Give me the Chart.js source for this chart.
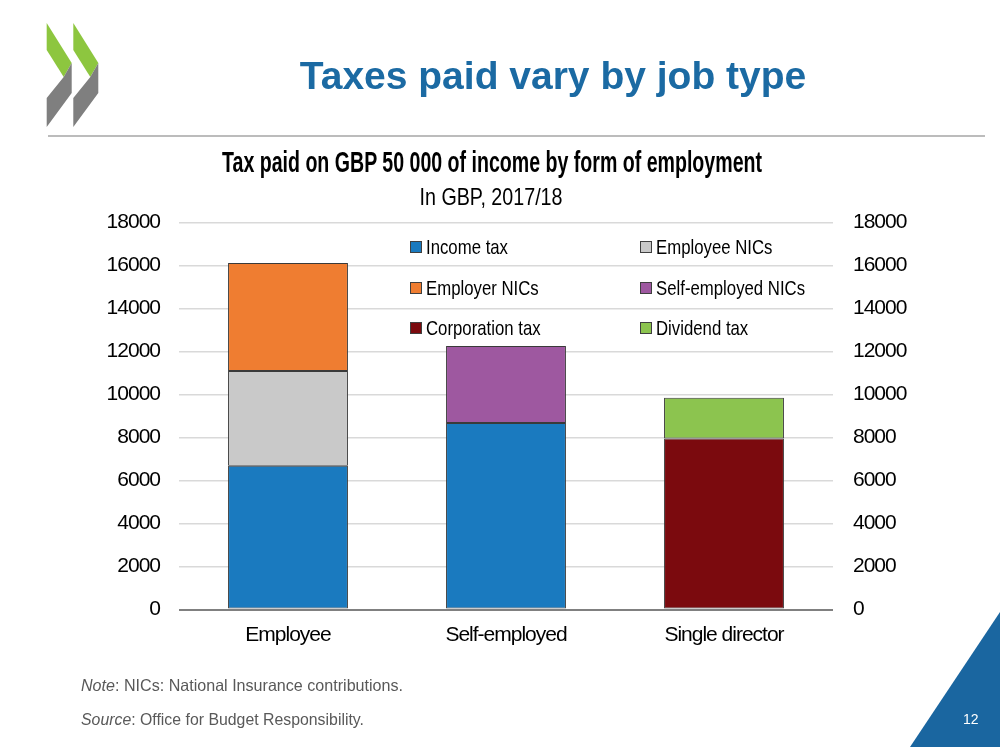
<!DOCTYPE html>
<html>
<head>
<meta charset="utf-8">
<script src="https://cdn.jsdelivr.net/npm/chart.js@4.4.0/dist/chart.umd.min.js"></script>
<style>
html,body{margin:0;padding:0;background:#fff;}
#page{position:relative;width:1000px;height:747px;overflow:hidden;background:#fff;}
#c{position:absolute;left:0;top:0;}
.t{position:absolute;white-space:nowrap;line-height:1;}
#title{left:253px;width:600px;top:54px;text-align:center;font:bold 39px "Liberation Sans",Arial,sans-serif;color:#1b6aa3;}
#ctitle{left:492px;top:146px;font:bold 29px "Liberation Sans",Arial,sans-serif;color:#000;}
#csub{left:491px;top:183px;font:24px "Liberation Sans",Arial,sans-serif;color:#000;}
.foot{left:81px;font:16.5px "Liberation Sans",Arial,sans-serif;color:#595959;transform-origin:0 50%;}
#pnum{left:963px;top:711px;font:14px "Liberation Sans",Arial,sans-serif;color:#fff;}
.leg{position:absolute;white-space:nowrap;font:21px "Liberation Sans",Arial,sans-serif;color:#000;line-height:1;}
.leg span.box{position:absolute;left:0;width:10px;height:10px;border:1px solid #404040;}
.leg span.lab{position:absolute;left:16px;top:0;transform-origin:0 50%;}
</style>
</head>
<body>
<div id="page">
<svg width="1000" height="747" style="position:absolute;left:0;top:0">
  <g id="logo"></g>
  <line x1="48" y1="136" x2="985" y2="136" stroke="#a6a6a6" stroke-width="1.5"/>
  <polygon points="1000,612 1000,747 910,747" fill="#1a66a0"/>
</svg>
<canvas id="c" width="1000" height="747"></canvas>
<div class="t" id="title">Taxes paid vary by job type</div>
<div class="t" id="ctitle">Tax paid on GBP 50 000 of income by form of employment</div>
<div class="t" id="csub">In GBP, 2017/18</div>
<div class="t foot" id="note" style="top:676px"><i>Note</i>: NICs: National Insurance contributions.</div>
<div class="t foot" id="source" style="top:710px"><i>Source</i>: Office for Budget Responsibility.</div>
<div class="t" id="pnum">12</div>
<div id="legend"></div>
</div>
<script>
// ---- data ----
const categories = ['Employee', 'Self-employed', 'Single director'];
const seriesNames = ['Income tax', 'Employee NICs', 'Employer NICs', 'Self-employed NICs', 'Corporation tax', 'Dividend tax'];
const incomeTax = [6690, 8670, null];
const employeeNICs = [4400, null, null];
const employerNICs = [5030, null, null];
const selfEmployedNICs = [null, 3590, null];
const corporationTax = [null, null, 7950];
const dividendTax = [null, null, 1900];
const yTickValues = [0, 2000, 4000, 6000, 8000, 10000, 12000, 14000, 16000, 18000];
const yTickLabels = ['0', '2000', '4000', '6000', '8000', '10000', '12000', '14000', '16000', '18000'];

const seriesValues = [incomeTax, employeeNICs, employerNICs, selfEmployedNICs, corporationTax, dividendTax];
const seriesColors = ['#1a7abf', '#c9c9c9', '#ef7d31', '#9e58a0', '#7b0a0e', '#8cc44f'];

// ---- logo ----
(function(){
  const g = document.getElementById('logo');
  const ns = 'http://www.w3.org/2000/svg';
  [46.7, 73.3].forEach(L => {
    const green = document.createElementNS(ns, 'polygon');
    green.setAttribute('points', `${L},23 ${L+25},63 ${L+17},77 ${L},50`);
    green.setAttribute('fill', '#8dc63f');
    const gray = document.createElementNS(ns, 'polygon');
    gray.setAttribute('points', `${L+25},63 ${L+25},93 ${L},127 ${L},98 ${L+17},77`);
    gray.setAttribute('fill', '#7f7f7f');
    g.appendChild(green); g.appendChild(gray);
  });
})();

// ---- condensed-look text (horizontal fit) ----
function fitCentered(el, target){
  const w = el.getBoundingClientRect().width;
  el.style.transform = `translateX(-50%) scaleX(${target / w})`;
}
function fitLeft(el, target){
  const w = el.getBoundingClientRect().width;
  el.style.transform = `scaleX(${target / w})`;
}
fitCentered(document.getElementById('ctitle'), 540);
fitCentered(document.getElementById('csub'), 143);
fitLeft(document.getElementById('note'), 322);
fitLeft(document.getElementById('source'), 283);

// ---- legend (HTML, built from series arrays) ----
(function(){
  const leg = document.getElementById('legend');
  const colX = [410, 640];
  const rowY = [236, 277, 317];
  const labs = [];
  seriesNames.forEach((name, i) => {
    const d = document.createElement('div');
    d.className = 'leg';
    d.style.left = colX[i % 2] + 'px';
    d.style.top = rowY[Math.floor(i / 2)] + 'px';
    const b = document.createElement('span');
    b.className = 'box';
    b.style.background = seriesColors[i];
    b.style.top = '5px';
    const l = document.createElement('span');
    l.className = 'lab';
    l.textContent = name;
    d.appendChild(b); d.appendChild(l);
    leg.appendChild(d);
    labs.push(l);
  });
  const k = 82 / labs[0].getBoundingClientRect().width;
  labs.forEach(l => { l.style.transform = `scaleX(${k})`; });
})();

// ---- chart ----
const FONT = '"Liberation Sans",Arial,sans-serif';
Chart.defaults.font.family = FONT;
Chart.defaults.color = '#000';

const datasets = seriesNames.map((name, i) => ({
  label: name,
  data: seriesValues[i],
  backgroundColor: seriesColors[i],
  borderColor: '#3a3a3a',
  borderWidth: 1,
  borderSkipped: false,
  categoryPercentage: 1,
  barPercentage: 0.55,
  yAxisID: 'y'
}));

const tightText = { id: 'tightText', beforeDraw(c){ c.ctx.letterSpacing = '-1px'; } };

new Chart(document.getElementById('c'), {
  type: 'bar',
  data: { labels: categories, datasets },
  plugins: [tightText],
  options: {
    responsive: false,
    animation: false,
    layout: { padding: { top: 222.5, left: 0, right: 0, bottom: 0 } },
    plugins: { legend: { display: false }, tooltip: { enabled: false }, title: { display: false } },
    scales: {
      x: {
        stacked: true,
        grid: { display: false, drawTicks: false },
        border: { display: false },
        ticks: { font: { size: 21 }, padding: 13, color: '#000' },
        afterFit: s => { s.height = 137.5; }
      },
      y: {
        stacked: true,
        position: 'left',
        min: 0, max: 18000,
        afterBuildTicks: s => { s.ticks = yTickValues.map(v => ({ value: v })); },
        grid: {
          drawTicks: false,
          color: ctx => ctx.tick && ctx.tick.value === 0 ? '#808080' : '#d9d9d9',
          lineWidth: ctx => ctx.tick && ctx.tick.value === 0 ? 2 : 1.5
        },
        border: { display: false },
        ticks: { font: { size: 21 }, padding: 19, color: '#000', callback: (v, i) => yTickLabels[i] },
        afterFit: s => { s.width = 179; }
      },
      y2: {
        position: 'right',
        min: 0, max: 18000,
        afterBuildTicks: s => { s.ticks = yTickValues.map(v => ({ value: v })); },
        grid: { drawOnChartArea: false, drawTicks: false },
        border: { display: false },
        ticks: { font: { size: 21 }, padding: 20, color: '#000', callback: (v, i) => yTickLabels[i] },
        afterFit: s => { s.width = 167; }
      }
    }
  }
});
</script>
</body>
</html>
